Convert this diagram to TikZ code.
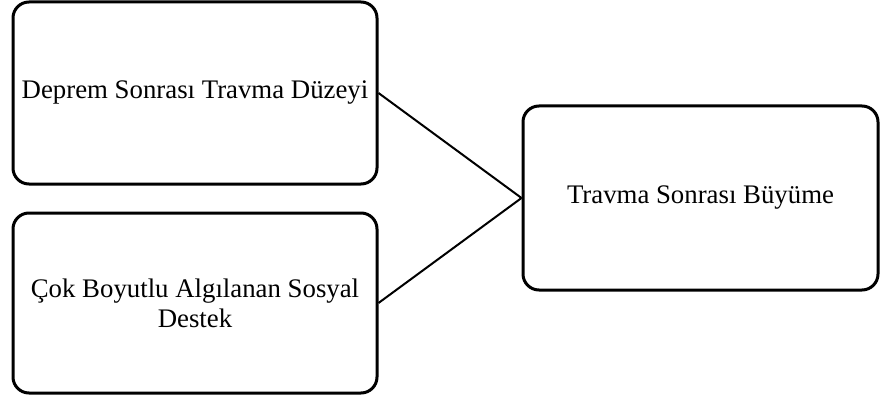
\documentclass[tikz,border=0pt]{standalone}
\usepackage{fontspec}
\setmainfont{Liberation Serif}
\begin{document}
\begin{tikzpicture}[x=1pt,y=-1pt,
  box/.style={draw=black,line width=3pt,rounded corners=16pt,fill=white,
    inner sep=0pt,align=center,font=\fontsize{26.8}{30}\selectfont},
  conn/.style={draw=black,line width=2pt}]
  \useasboundingbox (0,0) rectangle (880,401);
  \node[box,minimum width=364pt,minimum height=182pt] (a) at (195,93) {Deprem Sonrası Travma Düzeyi};
  \node[box,minimum width=364pt,minimum height=180pt] (b) at (195,303) {Çok Boyutlu Algılanan Sosyal\\Destek};
  \node[box,minimum width=355pt,minimum height=184pt] (c) at (700.5,198) {Travma Sonrası Büyüme};
  \draw[conn] (a.east) -- (c.west);
  \draw[conn] (b.east) -- (c.west);
\end{tikzpicture}
\end{document}
